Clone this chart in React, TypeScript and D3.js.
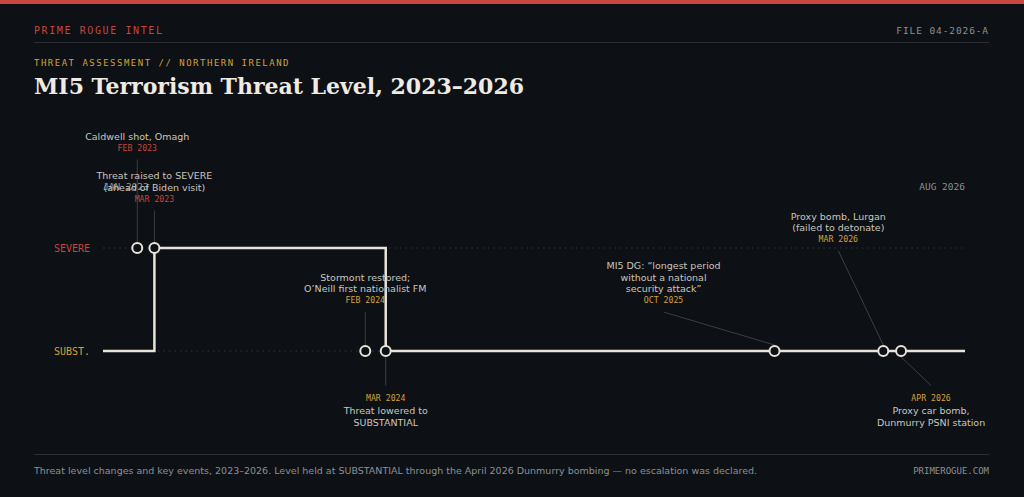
import React from "react";
import * as d3 from "d3";

// ---- data ----
const levelNames = ["SUBSTANTIAL", "SEVERE"];
const levelTicks = ["SUBST.", "SEVERE"];
const stepDates = ["2023-01-01", "2023-03-20", "2024-03-05", "2026-08-01"];
const stepLevels = ["SUBSTANTIAL", "SEVERE", "SUBSTANTIAL", "SUBSTANTIAL"];
const eventDates = ["2023-02-22", "2023-03-20", "2024-02-03", "2024-03-05", "2025-10-16", "2026-03-30", "2026-04-26"];
const eventLevels = ["SEVERE", "SEVERE", "SUBSTANTIAL", "SUBSTANTIAL", "SUBSTANTIAL", "SUBSTANTIAL", "SUBSTANTIAL"];
const eventDateLabels = ["FEB 2023", "MAR 2023", "FEB 2024", "MAR 2024", "OCT 2025", "MAR 2026", "APR 2026"];
const eventTexts = [
  ["Caldwell shot, Omagh"],
  ["Threat raised to SEVERE", "(ahead of Biden visit)"],
  ["Stormont restored;", "O\u2019Neill first nationalist FM"],
  ["Threat lowered to", "SUBSTANTIAL"],
  ["MI5 DG: \u201Clongest period", "without a national", "security attack\u201D"],
  ["Proxy bomb, Lurgan", "(failed to detonate)"],
  ["Proxy car bomb,", "Dunmurry PSNI station"],
];
const domainStart = "2023-01-01";
const domainEnd = "2026-08-01";
const startLabel = "JAN 2023";
const endLabel = "AUG 2026";

// ---- label layout (placement only) ----
const labelSide = ["above", "above", "above", "below", "above", "above", "below"];
const labelDx = [0, 0, 0, 0, -111, -45, 30];
const labelDy = [-97.5, -46.5, -48, 50, -48, -109.3, 50];

const W = 1024;
const H = 497;
const BG = "#0d1014";
const RED = "#c7463d";
const AMBER = "#d4a13e";
const INK = "#e8e4da";
const TEXT = "#cac6be";
const MUTED = "#8b9096";
const MONO = "'DejaVu Sans Mono', monospace";
const SANS = "'DejaVu Sans', sans-serif";
const SERIF = "'DejaVu Serif', serif";

export default function App() {
  const parse = d3.timeParse("%Y-%m-%d");
  const x = d3.scaleTime().domain([parse(domainStart)!, parse(domainEnd)!]).range([103, 965]);
  const y = d3.scalePoint<string>().domain(levelNames).range([351, 248]);

  const steps = stepDates.map((d, i) => ({ date: parse(d)!, level: stepLevels[i] }));
  const line = d3
    .line<{ date: Date; level: string }>()
    .x((d) => x(d.date))
    .y((d) => y(d.level)!)
    .curve(d3.curveStepAfter);

  const events = eventDates.map((d, i) => ({
    date: parse(d)!,
    level: eventLevels[i],
    dateLabel: eventDateLabels[i],
    lines: eventTexts[i],
    side: labelSide[i],
    dx: labelDx[i],
    dy: labelDy[i],
  }));

  const lh = 11.6;
  const [x0, x1] = x.range();

  return (
    <svg width={W} height={H} style={{ position: "absolute", left: 0, top: 0, background: BG }}>
      <rect width={W} height={H} fill={BG} />
      <rect width={W} height={4} fill={RED} />

      {/* header */}
      <text x={34} y={34} fill={RED} fontFamily={MONO} fontSize={10} letterSpacing={1.6}>PRIME ROGUE INTEL</text>
      <text x={989} y={34} fill={MUTED} fontFamily={MONO} fontSize={9.5} letterSpacing={0.9} textAnchor="end">FILE 04-2026-A</text>
      <line x1={34} x2={989} y1={42.5} y2={42.5} stroke="#2a2e33" strokeWidth={1} />
      <text x={34} y={66} fill={AMBER} fontFamily={MONO} fontSize={9} letterSpacing={1.5}>THREAT ASSESSMENT // NORTHERN IRELAND</text>
      <text x={34} y={94} fill="#efebe3" fontFamily={SERIF} fontWeight="bold" fontSize={22}>MI5 Terrorism Threat Level, 2023–2026</text>

      {/* level gridlines and labels */}
      {levelNames.map((lv, i) => (
        <g key={lv}>
          <line x1={x0} x2={x1} y1={y(lv)} y2={y(lv)} stroke="#2f343a" strokeWidth={1} strokeDasharray="1.5 4" />
          <text x={90} y={y(lv)! + 3.5} fill={lv === "SEVERE" ? RED : AMBER} fontFamily={MONO} fontSize={10} textAnchor="end">
            {levelTicks[i]}
          </text>
        </g>
      ))}

      {/* range labels */}
      <text x={x0} y={190} fill={MUTED} fontFamily={MONO} fontSize={9.5}>{startLabel}</text>
      <text x={x1} y={190} fill={MUTED} fontFamily={MONO} fontSize={9.5} textAnchor="end">{endLabel}</text>

      {/* leader lines */}
      {events.map((e, i) => {
        const mx = x(e.date);
        const my = y(e.level)!;
        const lx = mx + e.dx;
        const dateY = my + e.dy;
        return e.side === "above" ? (
          <line key={"l" + i} x1={lx} y1={dateY + 9} x2={mx} y2={my - 6} stroke="#3b4046" strokeWidth={1} />
        ) : (
          <line key={"l" + i} x1={mx} y1={my + 6} x2={lx} y2={dateY - 15.5} stroke="#3b4046" strokeWidth={1} />
        );
      })}

      {/* step line */}
      <path d={line(steps)!} fill="none" stroke={INK} strokeWidth={2.5} />

      {/* markers */}
      {events.map((e, i) => (
        <circle key={"c" + i} cx={x(e.date)} cy={y(e.level)} r={5} fill={BG} stroke={INK} strokeWidth={2} />
      ))}

      {/* labels */}
      {events.map((e, i) => {
        const mx = x(e.date);
        const my = y(e.level)!;
        const lx = mx + e.dx;
        const dateY = my + e.dy;
        const col = e.level === "SEVERE" ? RED : AMBER;
        const n = e.lines.length;
        return (
          <g key={"t" + i} textAnchor="middle">
            <text x={lx} y={dateY} fill={col} fontFamily={MONO} fontSize={8.2}>{e.dateLabel}</text>
            {e.lines.map((t, j) => (
              <text
                key={j}
                x={lx}
                y={e.side === "above" ? dateY - 10.6 - (n - 1 - j) * lh : dateY + 13.3 + j * lh}
                fill={TEXT}
                fontFamily={SANS}
                fontSize={9.5}
              >
                {t}
              </text>
            ))}
          </g>
        );
      })}

      {/* footer */}
      <line x1={34} x2={989} y1={454.5} y2={454.5} stroke="#2a2e33" strokeWidth={1} />
      <text x={34} y={474} fill={MUTED} fontFamily={SANS} fontSize={9.5}>
        Threat level changes and key events, 2023–2026. Level held at SUBSTANTIAL through the April 2026 Dunmurry bombing — no escalation was declared.
      </text>
      <text x={989} y={474} fill={MUTED} fontFamily={MONO} fontSize={9} textAnchor="end">PRIMEROGUE.COM</text>
    </svg>
  );
}
